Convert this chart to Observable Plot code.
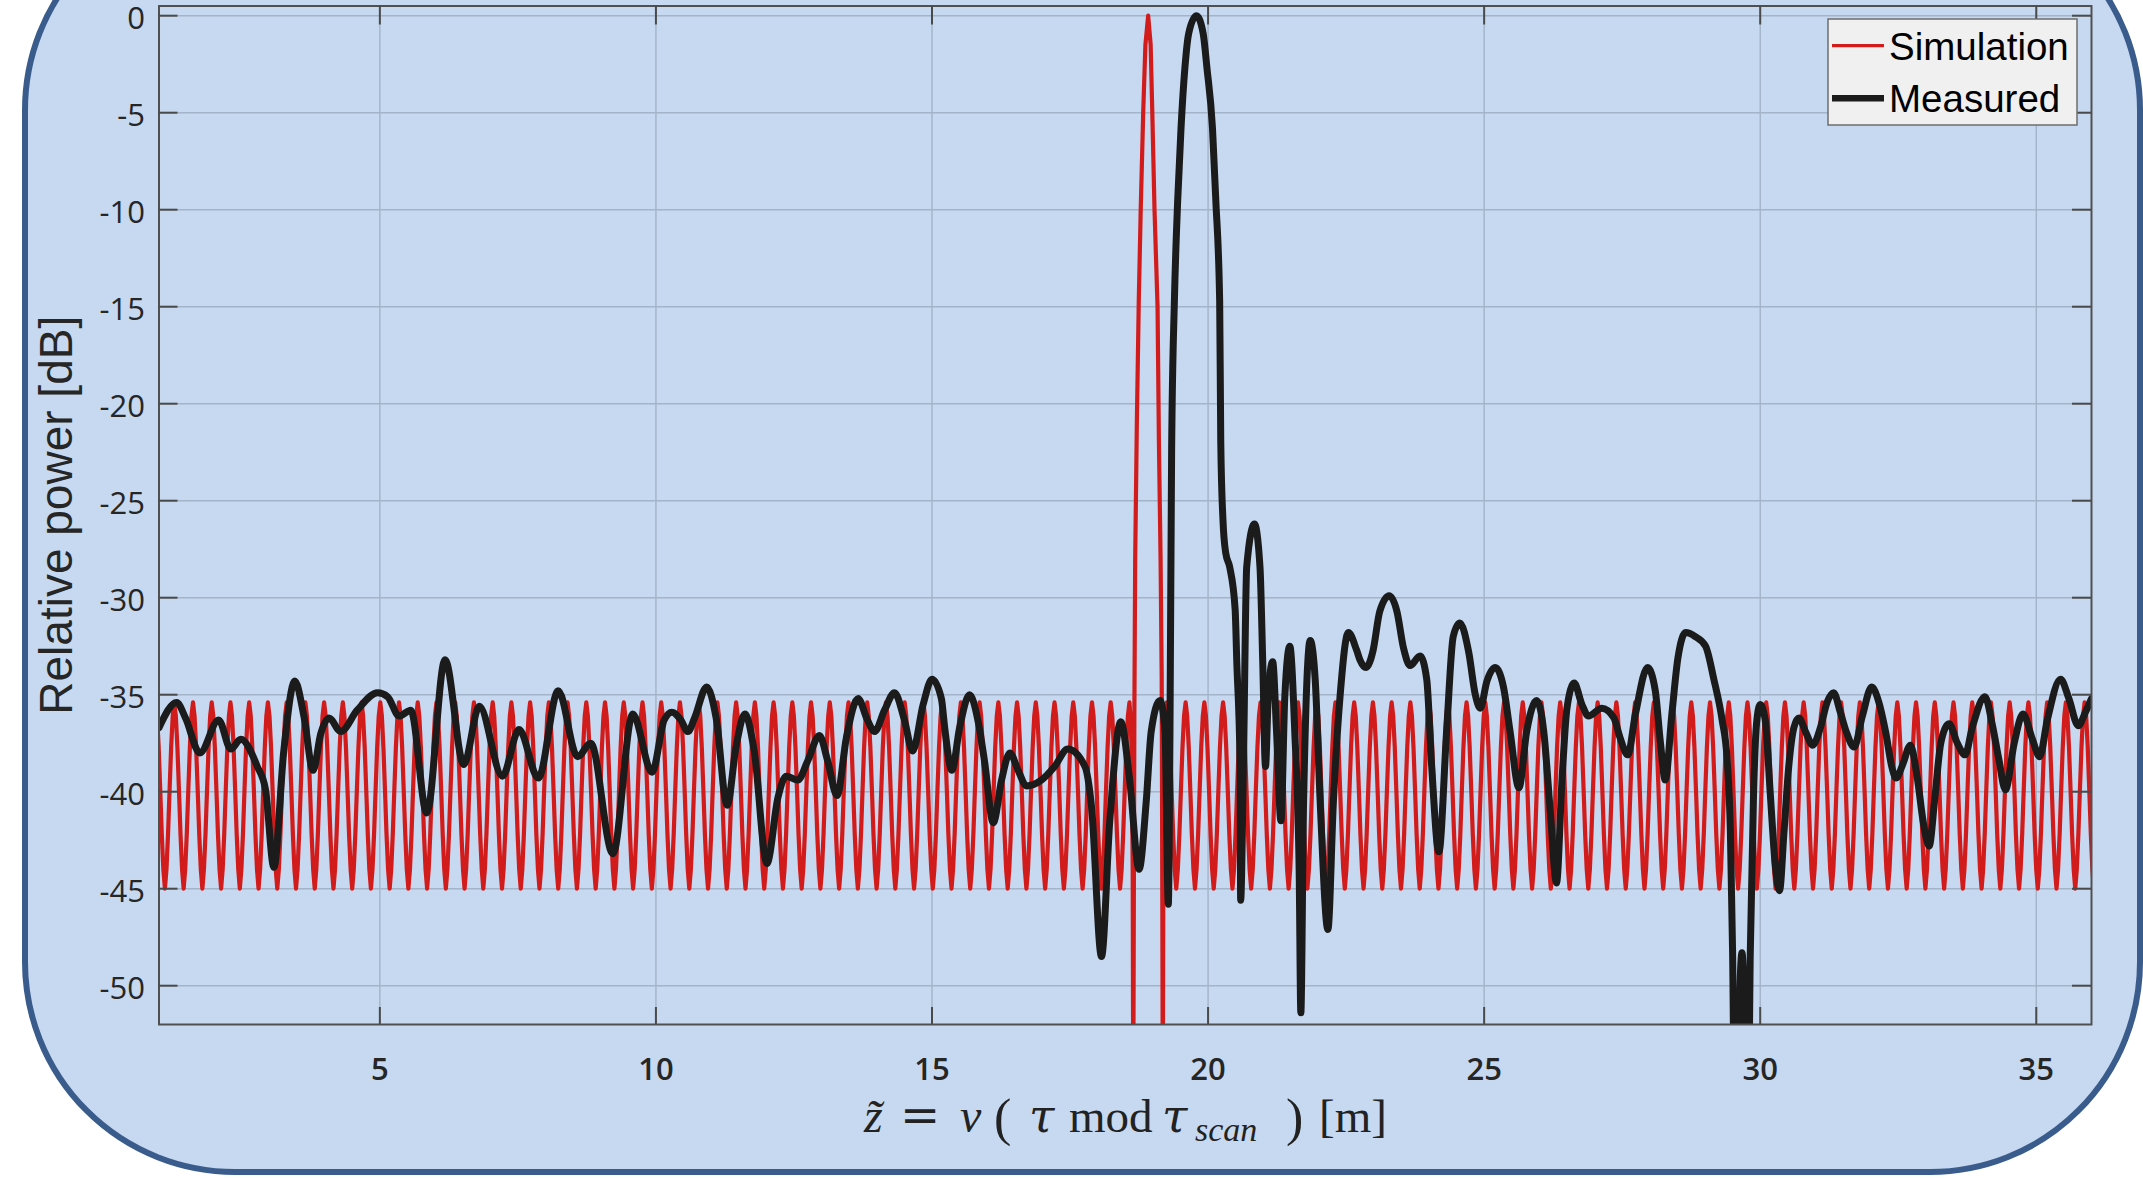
<!DOCTYPE html>
<html>
<head>
<meta charset="utf-8">
<script src="https://cdn.jsdelivr.net/npm/d3@7"></script>
<script src="https://cdn.jsdelivr.net/npm/@observablehq/plot@0.6"></script>
<style>
  html, body { margin: 0; padding: 0; background: #ffffff; }
  #wrap { position: relative; width: 2143px; height: 1179px; overflow: hidden; }
  #panel { position: absolute; left: 21.75px; top: -103.25px; width: 2121.5px; height: 1278px;
           box-sizing: border-box; border: 6.5px solid #3a5c8c; border-radius: 213px; background: #c6d9f0; }
  #chart { position: absolute; left: 0; top: 0; }
  #xlabel span { position: absolute; color: #222; white-space: pre; line-height: 1; }
  #legend { position: absolute; left: 0; top: 0; }
</style>
</head>
<body>
<div id="wrap">
  <div id="panel"></div>
  <div id="chart"></div>
  <div id="xlabel"></div>
  <svg id="legend" width="2143" height="200"></svg>
</div>
<script>
// ---------------- data ----------------
const xTicks = [5, 10, 15, 20, 25, 30, 35];
const yTicks = [0, -5, -10, -15, -20, -25, -30, -35, -40, -45, -50];

// Simulation: a regular sidelobe ripple (one period, sampled from its peak) + the main lobe
const simPeriod = 0.3392;        // m, distance between ripple peaks (read)
const simMainPeakZ = 18.915;     // m, position of the main lobe peak (read)
const simCycleDb = [-35.4, -36.1, -37.7, -39.9, -42.2, -44.0, -45.0, -44.0, -42.2, -39.9, -37.7, -36.1];
const simLobeZ  = [18.576, 18.604, 18.62, 18.635, 18.645, 18.655, 18.665, 18.68, 18.71, 18.745, 18.78, 18.825, 18.865, 18.915,
                   18.96, 18.99, 19.03, 19.085, 19.11, 19.14, 19.16, 19.172, 19.18, 19.19, 19.205, 19.225, 19.254];
const simLobeDb = [-35.4, -36.6, -39.0, -44.0, -56.0, -46.0, -36.0, -28.0, -21.0, -14.7, -10.0, -5.0, -1.5, 0.0,
                   -1.5, -5.0, -10.0, -15.0, -22.0, -28.0, -34.0, -46.0, -56.0, -44.0, -39.0, -36.6, -35.4];

// Measured
const measuredZ = [1.0, 1.32, 1.48, 1.74, 2.08, 2.30, 2.48, 2.78, 2.93, 3.08, 3.26, 3.46, 3.63, 3.79, 3.93, 4.08, 4.29, 4.59, 4.96,
  5.14, 5.35, 5.56, 5.85, 6.18, 6.52, 6.80, 7.22, 7.52, 7.87, 8.23, 8.58, 8.82, 9.22, 9.58, 9.93, 10.15, 10.29, 10.45, 10.58,
  10.70, 10.92, 11.09, 11.29, 11.45, 11.61, 11.78, 12.01, 12.21, 12.36, 12.57, 12.75, 12.96, 13.11, 13.28, 13.45, 13.66, 13.83,
  13.96, 14.14, 14.32, 14.50, 14.65, 14.84, 15.00, 15.17, 15.23, 15.36, 15.50, 15.68, 15.83, 15.95, 16.11, 16.26, 16.41, 16.56,
  16.71, 16.98, 17.22, 17.46, 17.77, 17.89, 18.07, 18.22, 18.42, 18.58, 18.75, 18.88, 18.97, 19.13, 19.22, 19.28, 19.31, 19.34,
  19.39, 19.45, 19.51, 19.58, 19.65, 19.79, 19.91, 19.98, 20.08, 20.14, 20.21, 20.23, 20.27, 20.32, 20.39, 20.49, 20.52, 20.58,
  20.59, 20.64, 20.70, 20.84, 20.94, 20.99, 21.04, 21.09, 21.17, 21.24, 21.32, 21.39, 21.48, 21.57, 21.65, 21.68, 21.73, 21.85,
  21.94, 22.03, 22.17, 22.27, 22.39, 22.54, 22.69, 22.75, 22.86, 22.99, 23.11, 23.28, 23.42, 23.54, 23.66, 23.84, 23.96, 24.05,
  24.18, 24.32, 24.44, 24.56, 24.72, 24.84, 24.93, 25.05, 25.20, 25.35, 25.47, 25.63, 25.77, 25.95, 26.08, 26.20, 26.31, 26.41,
  26.50, 26.63, 26.77, 26.89, 27.13, 27.35, 27.46, 27.60, 27.74, 27.96, 28.10, 28.19, 28.28, 28.40, 28.51, 28.65, 28.82, 29.01,
  29.16, 29.31, 29.40, 29.46, 29.50, 29.53, 29.60, 29.64, 29.67, 29.70, 29.73, 29.79, 29.82, 29.88, 29.94, 30.00, 30.09, 30.18,
  30.27, 30.35, 30.43, 30.52, 30.61, 30.70, 30.82, 30.95, 31.09, 31.21, 31.33, 31.45, 31.57, 31.70, 31.85, 32.02, 32.15, 32.27,
  32.39, 32.46, 32.58, 32.72, 32.84, 32.96, 33.06, 33.16, 33.27, 33.42, 33.57, 33.71, 33.84, 34.07, 34.20, 34.32, 34.44, 34.60,
  34.76, 34.93, 35.06, 35.20, 35.44, 35.59, 35.76, 35.89, 36.0];
const measuredDb = [-36.7, -35.4, -36.2, -38.0, -36.3, -37.8, -37.3, -38.7, -39.9, -43.9, -37.9, -34.3, -36.2, -38.9, -37.0, -36.2, -36.9, -35.8, -34.9,
  -35.1, -36.1, -35.8, -41.1, -33.2, -38.6, -35.6, -39.2, -36.8, -39.3, -34.8, -38.2, -37.5, -43.2, -36.0, -39.0, -36.3, -35.9, -36.3, -36.9,
  -36.2, -34.6, -36.2, -40.7, -37.7, -36.0, -37.9, -43.7, -40.3, -39.2, -39.4, -38.4, -37.1, -38.4, -40.2, -37.2, -35.2, -36.3,
  -36.9, -35.8, -34.9, -36.3, -37.9, -35.5, -34.2, -35.2, -36.7, -38.9, -36.7, -35.0, -36.3, -38.4, -41.6, -39.4, -38.0, -38.9,
  -39.7, -39.4, -38.7, -37.8, -38.7, -40.8, -48.5, -41.5, -36.4, -39.4, -44.0, -40.5, -36.9, -35.3, -36.9, -45.8, -36.9, -22.4,
  -14.7, -9.5, -5.8, -2.7, -0.9, 0.0, -0.9, -2.7, -5.8, -9.5, -14.7, -22.0, -26.0, -27.7, -28.4, -30.6, -33.3, -38.7,
  -45.6, -38.7, -28.4, -26.2, -28.4, -33.3, -38.7, -35.1, -33.3, -36.9, -41.5, -35.1, -32.5, -36.9, -44.1, -51.4, -40.5, -32.2,
  -34.2, -40.5, -47.1, -40.5, -35.1, -31.8, -32.7, -33.2, -33.6, -32.7, -30.7, -29.9, -30.7, -32.6, -33.5, -33.0, -34.2, -38.7,
  -43.1, -36.9, -32.0, -31.3, -32.8, -35.0, -35.7, -34.3, -33.6, -34.6, -36.9, -39.8, -36.9, -35.3, -36.9, -41.1, -44.7, -39.4,
  -35.7, -34.4, -35.5, -36.1, -35.7, -36.2, -37.2, -38.1, -36.0, -33.6, -34.8, -37.4, -39.4, -36.0, -33.1, -31.8, -32.0, -32.5,
  -34.2, -36.3, -38.3, -42.1, -48.3, -55.0, -55.0, -49.5, -48.3, -50.0, -55.0, -55.0, -48.3, -40.0, -36.3, -35.5, -36.3, -40.0,
  -43.7, -45.1, -42.1, -38.6, -36.7, -36.2, -36.9, -37.6, -36.7, -35.4, -34.9, -35.9, -37.0, -37.7, -36.1, -34.6, -35.4, -36.9,
  -38.8, -39.3, -38.6, -37.6, -39.2, -41.7, -42.8, -40.4, -37.5, -36.5, -37.5, -38.1, -36.7, -35.1, -36.5, -38.3, -39.9, -37.5,
  -36.0, -37.3, -38.2, -36.3, -34.2, -35.2, -36.6, -35.9, -35.2];

const legendLabels = ["Simulation", "Measured"];
const legendColors = ["#d21c1c", "#1b1b1b"];
const legendWidths = [4.2, 7];

// ---------------- build tables ----------------
const lobeStart = simLobeZ[0], lobeEnd = simLobeZ[simLobeZ.length - 1];
let sim = [];
for (let k = -54; k <= 52; k++) {
  simCycleDb.forEach((db, j) => {
    const z = simMainPeakZ + (k + j / simCycleDb.length) * simPeriod;
    if (z > 0.6 && z < 36.4 && (z < lobeStart - 0.005 || z > lobeEnd + 0.005)) sim.push({z, db});
  });
}
simLobeZ.forEach((z, i) => sim.push({z, db: simLobeDb[i]}));
sim.sort((a, b) => a.z - b.z);
const meas = measuredZ.map((z, i) => ({z, db: measuredDb[i]}));

// ---------------- chart ----------------
const W = 2143, H = 1179;
const mL = 158.5, mR = 52, mT = 5.5, mB = 155;
const plotW = W - mL - mR, plotH = H - mT - mB;
const gridColor = "#a3b3c8";
const tickColor = "#4a4a4a";

const chart = Plot.plot({
  width: W, height: H,
  marginLeft: mL, marginRight: mR, marginTop: mT, marginBottom: mB,
  x: {domain: [1, 36]},
  y: {domain: [-52, 0.5]},
  style: {background: "transparent", fontFamily: "'Open Sans', sans-serif", color: "#262626", overflow: "visible"},
  marks: [
    Plot.gridX(xTicks, {stroke: gridColor, strokeOpacity: 1, strokeWidth: 1.4}),
    Plot.gridY(yTicks, {stroke: gridColor, strokeOpacity: 1, strokeWidth: 1.4}),
    Plot.line(sim, {x: "z", y: "db", stroke: legendColors[0], strokeWidth: legendWidths[0], clip: true}),
    Plot.line(meas, {x: "z", y: "db", stroke: legendColors[1], strokeWidth: legendWidths[1], curve: "monotone-x", clip: true}),
    Plot.frame({stroke: "#505050", strokeWidth: 2}),
    Plot.tickY(yTicks, {y: d => d, insetRight: plotW - 19, stroke: tickColor, strokeWidth: 2}),
    Plot.tickY(yTicks, {y: d => d, insetLeft: plotW - 19, stroke: tickColor, strokeWidth: 2}),
    Plot.tickX(xTicks, {x: d => d, insetTop: plotH - 17, stroke: tickColor, strokeWidth: 2}),
    Plot.tickX(xTicks, {x: d => d, insetBottom: plotH - 19, stroke: tickColor, strokeWidth: 2}),
    Plot.axisY(yTicks, {tickSize: 0, tickPadding: 14, tickFormat: d => String(d), fontSize: 31, dy: 3, label: null, fill: "#262626"}),
    Plot.axisX(xTicks, {tickSize: 0, tickPadding: 33, tickFormat: d => String(d), fontSize: 31, fontWeight: 600, label: null, fill: "#262626"}),
    Plot.text(["Relative power [dB]"], {frameAnchor: "left", textAnchor: "middle", dx: -101.5, rotate: -90, fontSize: 46,
      fontFamily: "'Liberation Sans', Arial, sans-serif", fill: "#262626"})
  ]
});
document.getElementById("chart").appendChild(chart);

// ---------------- x label (LaTeX-like) ----------------
const serif = "'Liberation Serif', serif", dserif = "'DejaVu Serif', serif";
const xlabelParts = [
  {t: "z\u0303", left: 864, size: 48, italic: true, base: 1132, font: serif},
  {t: "=", left: 900, size: 48, italic: false, base: 1132, font: dserif},
  {t: "v", left: 960, size: 48, italic: true, base: 1132, font: serif},
  {t: "(", left: 994, size: 52, italic: false, base: 1136, font: serif},
  {t: "\u03c4", left: 1029, size: 46, italic: true, base: 1132, font: dserif},
  {t: "mod", left: 1069, size: 47, italic: false, base: 1132, font: serif},
  {t: "\u03c4", left: 1162, size: 46, italic: true, base: 1132, font: dserif},
  {t: "scan", left: 1195, size: 34, italic: true, base: 1141, font: serif},
  {t: ")", left: 1286, size: 52, italic: false, base: 1136, font: serif},
  {t: "[m]", left: 1319, size: 47, italic: false, base: 1132, font: serif}
];
const xl = d3.select("#xlabel");
xlabelParts.forEach(p => {
  const asc = p.font === dserif ? 0.928 : 0.891, desc = p.font === dserif ? 0.236 : 0.216;
  const top = p.base - (asc * p.size - ((asc + desc) * p.size - p.size) / 2);
  xl.append("span").text(p.t)
    .style("left", p.left + "px").style("top", top + "px").style("font-family", p.font)
    .style("font-size", p.size + "px").style("font-style", p.italic ? "italic" : "normal");
});

// ---------------- legend ----------------
const lg = d3.select("#legend");
lg.append("rect").attr("x", 1828).attr("y", 19).attr("width", 249).attr("height", 106)
  .attr("fill", "#f0f0f0").attr("stroke", "#6e6e6e").attr("stroke-width", 1.5);
legendLabels.forEach((lab, i) => {
  const cy = [45.7, 98.3][i];
  lg.append("line").attr("x1", 1832).attr("x2", 1884).attr("y1", cy).attr("y2", cy)
    .attr("stroke", legendColors[i]).attr("stroke-width", [3.2, 6.5][i]);
  lg.append("text").attr("x", 1889).attr("y", [60, 111.7][i]).text(lab)
    .attr("font-family", "'Liberation Sans', Arial, sans-serif").attr("font-size", 38.5).attr("fill", "#000");
});
</script>
</body>
</html>
